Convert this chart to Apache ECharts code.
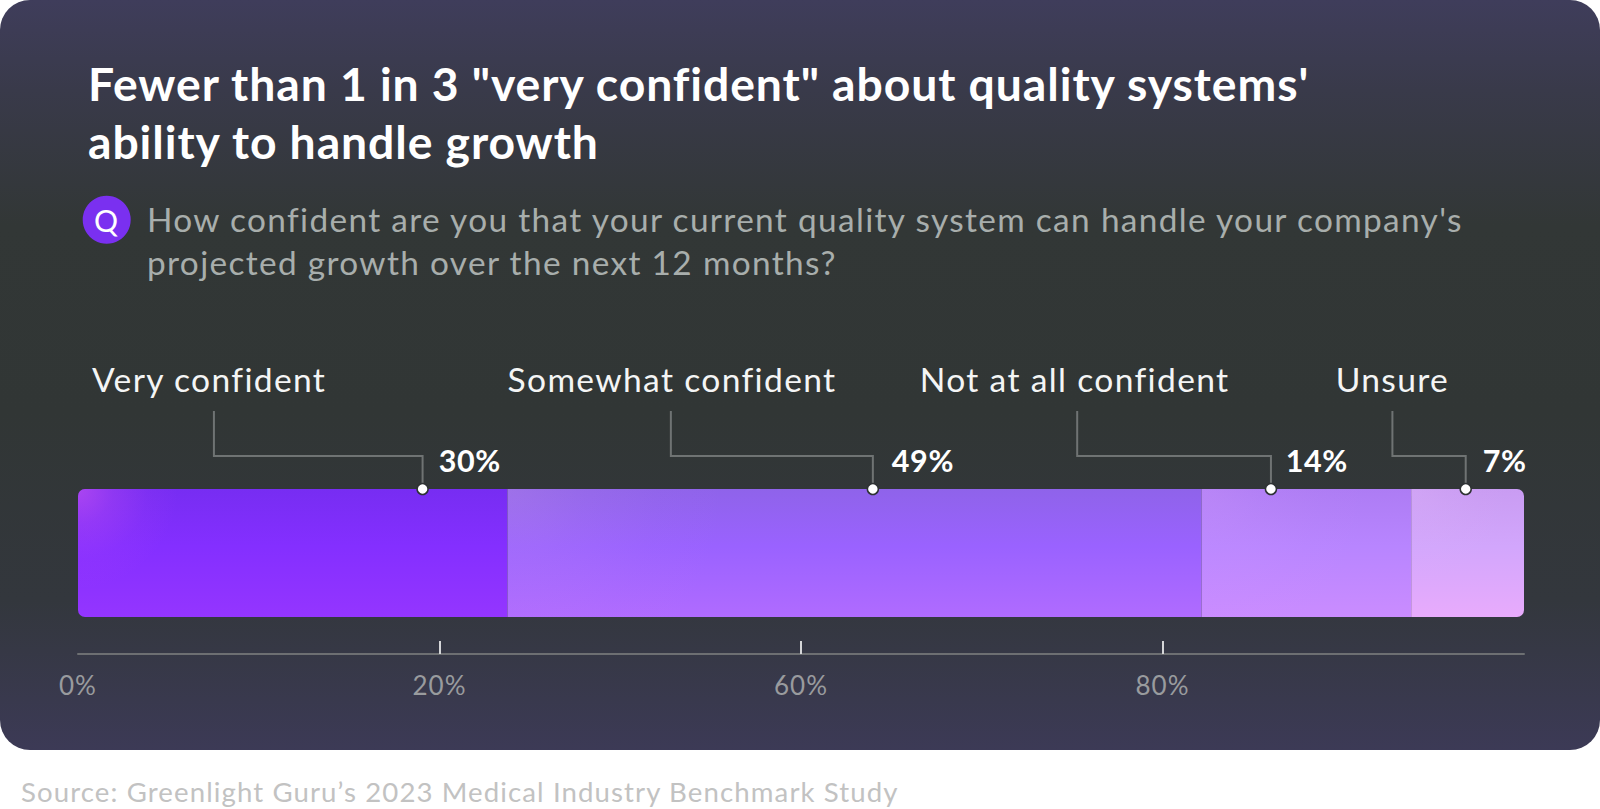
<!DOCTYPE html>
<html><head><meta charset="utf-8">
<style>html,body{margin:0;padding:0;background:#fff}#c{width:1600px;height:809px}
#c svg text{letter-spacing:.04em}
#c svg text[style*="700"]{letter-spacing:.02em}</style>
<script src="https://cdn.jsdelivr.net/npm/echarts@6/dist/echarts.min.js"></script>
</head><body><div id="c"></div>
<script>
const categories = ['Very confident','Somewhat confident','Not at all confident','Unsure'];
const printedPercents = ['30%','49%','14%','7%'];
// segment lengths as drawn in the picture, on the 0-100 axis length
const segmentValues = [29.7,48.0,14.5,7.8];
// annotation positions read on the same axis
const leaderAnchors = [23.83,54.97,82.5,95.97];
const leaderStarts = [9.4,41.0,69.1,90.9];
const nameCenters = [9.07,41.08,68.92,90.9];
const percentStarts = [24.95,56.28,83.52,97.14];
const tickValues = [0,25,50,75];
const tickLabels = ['0%','20%','60%','80%'];
const titleLines = ['Fewer than 1 in 3 "very confident" about quality systems\'','ability to handle growth'];
const questionLines = ["How confident are you that your current quality system can handle your company's",'projected growth over the next 12 months?'];
const sourceText = 'Source: Greenlight Guru\u2019s 2023 Medical Industry Benchmark Study';

const FONT = 'Lato';
const GRID_LEFT = 78, GRID_WIDTH = 1446, BAR_TOP = 489;
const vgrad = (a,b,c)=>({type:'linear',x:0,y:0,x2:0,y2:1,colorStops:[{offset:0,color:a},{offset:.45,color:b},{offset:1,color:c}]});
const fills = [vgrad('#772df2','#842fff','#9435ff'),vgrad('#8f63ea','#9a62ff','#b06bff'),vgrad('#ad7cf4','#b885ff','#ca8cff'),vgrad('#c99cf2','#d2a6fc','#e8abfc')];
const glowStyles = [[[205,85,240],.6,100],[[215,170,225],.2,220],[[235,175,255],.18,170],[[240,200,255],.18,100]];
let cum = 0;
const glows = segmentValues.map((v,i)=>{
  const [rgb,a,r]=glowStyles[i], c=k=>`rgba(${rgb.join(',')},${k})`;
  const g={type:'radial',global:true,x:GRID_LEFT+cum/100*GRID_WIDTH,y:BAR_TOP,r,
    colorStops:[{offset:0,color:c(a)},{offset:.35,color:c(a*.45)},{offset:.7,color:c(a*.12)},{offset:1,color:c(0)}]};
  cum+=v; return g;
});
const radii = [[7,0,0,7],0,0,[0,7,7,0]];

const barSeries = categories.map((n,i)=>({type:'bar',name:n,stack:'base',barWidth:128,barGap:'-100%',silent:true,
  data:[segmentValues[i]],itemStyle:{color:fills[i],borderRadius:radii[i]},z:2}));
const glowSeries = categories.map((n,i)=>({type:'bar',name:n+' glow',stack:'glow',barWidth:128,barGap:'-100%',silent:true,
  data:[segmentValues[i]],itemStyle:{color:glows[i],borderRadius:radii[i]},z:3}));

const leaderSeries = {type:'custom',silent:true,clip:false,z:5,coordinateSystem:'cartesian2d',
  data:categories.map((n,i)=>[leaderAnchors[i],0,leaderStarts[i],i]),
  encode:{x:0,y:1},
  renderItem(params,api){
    const a=api.coord([api.value(0),0]), s=api.coord([api.value(2),0]), i=api.value(3);
    const nx=api.coord([nameCenters[i],0])[0], px=api.coord([percentStarts[i],0])[0];
    const top=a[1]-64, elbow=top-33, start=top-78;
    return {type:'group',children:[
      {type:'polyline',shape:{points:[[s[0],start],[s[0],elbow],[a[0],elbow],[a[0],top]]},style:{stroke:'#6f7373',lineWidth:2,fill:null}},
      {type:'circle',shape:{cx:a[0],cy:top,r:5.5},style:{fill:'#fff',stroke:'#2e3234',lineWidth:1.5}},
      {type:'text',style:{text:categories[i],x:nx,y:top-110,align:'center',verticalAlign:'middle',fill:'#f4f5f5',font:'400 33.6px '+FONT}},
      {type:'text',style:{text:printedPercents[i],x:px,y:top-29.5,align:'left',verticalAlign:'middle',fill:'#fff',font:'700 30.5px '+FONT}}
    ]};
  }};

const txt=(t,x,y,fill,font,extra)=>({type:'text',z:10,style:Object.assign({text:t,x,y,fill,font,verticalAlign:'middle'},extra||{})});

const chart = echarts.init(document.getElementById('c'),null,{renderer:'svg'});
chart.setOption({
  backgroundColor:'#fff',animation:false,
  grid:{left:GRID_LEFT,width:GRID_WIDTH,top:452,bottom:155,containLabel:false},
  xAxis:{type:'value',min:0,max:100,interval:25,splitLine:{show:false},
    axisLine:{show:true,lineStyle:{color:'#6d6f72',width:2}},
    axisTick:{show:true,inside:true,length:13,customValues:tickValues.slice(1),lineStyle:{color:'#d5d6d8',width:2}},
    axisLabel:{show:true,customValues:tickValues,margin:18,fontSize:26,fontFamily:FONT,color:'#999b9e',
      formatter:v=>tickLabels[tickValues.indexOf(v)]}},
  yAxis:{type:'category',data:['Share'],show:false},
  graphic:[
    {type:'rect',z:-10,shape:{x:0,y:0,width:1600,height:750,r:30},style:{fill:{type:'linear',x:0,y:0,x2:0,y2:1,colorStops:[
      {offset:0,color:'#3f3d5b'},{offset:.12,color:'#393a4a'},{offset:.3,color:'#323736'},{offset:.55,color:'#313635'},{offset:.8,color:'#33373d'},{offset:1,color:'#3c3a56'}]}}},
    txt(titleLines[0],88,83,'#fff','700 46.3px '+FONT),
    txt(titleLines[1],88,141,'#fff','700 46.3px '+FONT),
    {type:'circle',z:10,shape:{cx:106.7,cy:219.7,r:24},style:{fill:'#7a30f0'}},
    txt('Q',106.7,219.7,'#fff','400 30px '+FONT,{align:'center'}),
    txt(questionLines[0],147,219,'#a8aeac','400 33.4px '+FONT),
    txt(questionLines[1],147,262,'#a8aeac','400 33.4px '+FONT),
    txt(sourceText,21,791,'#c2c2c2','400 27.6px '+FONT)
  ],
  series:[...barSeries,...glowSeries,leaderSeries]
});
</script></body></html>
